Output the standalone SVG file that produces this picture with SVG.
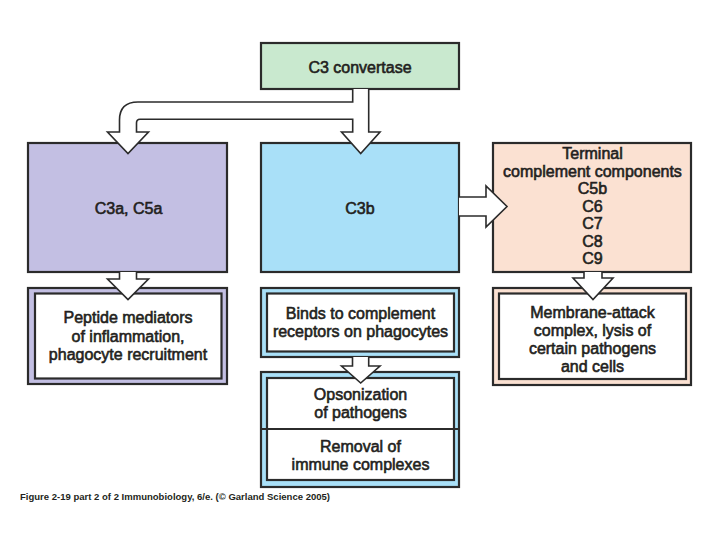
<svg xmlns="http://www.w3.org/2000/svg" width="720" height="540" viewBox="0 0 720 540">
<style>
.box{stroke:#2b2b2b;stroke-width:2.2}
.t{font-family:"Liberation Sans",Arial,sans-serif;font-size:16px;fill:#231f20;stroke:#231f20;stroke-width:0.6;text-anchor:middle}
.arrow{fill:#ffffff;stroke:#2b2b2b;stroke-width:1.6;stroke-linejoin:miter}
.green{fill:#c9e9cf}
.lav{fill:#c3bfe3}
.blue{fill:#a9e0f8}
.peach{fill:#fbe1d2}
.white{fill:#ffffff}
.cap{font-family:"Liberation Sans",Arial,sans-serif;font-size:9px;font-weight:bold;fill:#231f20}
</style>
<rect width="720" height="540" fill="#ffffff"/>
<g id="c3-convertase">
<rect class="box green" x="261" y="43" width="198" height="46"/>
<text class="t" x="360" y="73">C3 convertase</text>
</g>
<g id="c3a-c5a">
<rect class="box lav" x="28" y="143" width="199" height="129"/>
<text class="t" x="128.5" y="213.5">C3a, C5a</text>
</g>
<g id="c3b">
<rect class="box blue" x="261" y="143" width="198" height="129"/>
<text class="t" x="360" y="213.5">C3b</text>
</g>
<g id="terminal">
<rect class="box peach" x="493" y="143" width="198" height="129"/>
<text class="t" x="592.5" y="158.5">Terminal</text>
<text class="t" x="592.5" y="176.5">complement components</text>
<text class="t" x="592.5" y="194">C5b</text>
<text class="t" x="592.5" y="211.5">C6</text>
<text class="t" x="592.5" y="229">C7</text>
<text class="t" x="592.5" y="246.5">C8</text>
<text class="t" x="592.5" y="264">C9</text>
</g>
<g id="peptide">
<rect class="box lav" x="28" y="288" width="199" height="96"/>
<rect class="box white" x="35" y="293.5" width="186.5" height="85"/>
<text class="t" x="128" y="323">Peptide mediators</text>
<text class="t" x="128" y="341.5">of inflammation,</text>
<text class="t" x="128" y="360">phagocyte recruitment</text>
</g>
<g id="binds">
<rect class="box blue" x="261" y="288" width="198" height="69"/>
<rect class="box white" x="267" y="293.5" width="187" height="58"/>
<text class="t" x="360.5" y="318.5">Binds to complement</text>
<text class="t" x="360.5" y="336.5">receptors on phagocytes</text>
</g>
<g id="opsonization">
<rect class="box blue" x="261" y="372" width="198" height="115"/>
<rect class="box white" x="267" y="378" width="187" height="102"/>
<line class="box" x1="261" y1="429" x2="459" y2="429"/>
<text class="t" x="360.5" y="400">Opsonization</text>
<text class="t" x="360.5" y="417.5">of pathogens</text>
<text class="t" x="360.5" y="452">Removal of</text>
<text class="t" x="360.5" y="469.5">immune complexes</text>
</g>
<g id="membrane-attack">
<rect class="box peach" x="493" y="288" width="198" height="97"/>
<rect class="box white" x="499" y="293.5" width="187" height="85.5"/>
<text class="t" x="592.5" y="318">Membrane-attack</text>
<text class="t" x="592.5" y="336">complex, lysis of</text>
<text class="t" x="592.5" y="354">certain pathogens</text>
<text class="t" x="592.5" y="372">and cells</text>
</g>
<g id="connectors">
<path class="arrow" d="M352.7,89 V102 H138 Q119.5,102 119.5,120 V132 H107.5 L128,153.5 L148.5,132 H136.5 V123 Q136.5,119.3 140,119.3 H352.7 V132 H341.5 L360.7,153.5 L380,132 H368.7 V89"/>
<path class="arrow" d="M119.5,272 V279 H107.5 L128,299.5 L148.5,279 H136.5 V272"/>
<path class="arrow" d="M352.5,357 V366 H341.5 L360.7,383 L380,366 H368.7 V357"/>
<path class="arrow" d="M584,272 V278 H573 L593,299.5 L613,278 H602 V272"/>
<path class="arrow" d="M459,197 H486 V186 L507,206.5 L486,227 V216 H459"/>
</g>
<text class="cap" x="20" y="500" textLength="310" lengthAdjust="spacingAndGlyphs">Figure 2-19 part 2 of 2  Immunobiology, 6/e. (© Garland Science 2005)</text>
</svg>
